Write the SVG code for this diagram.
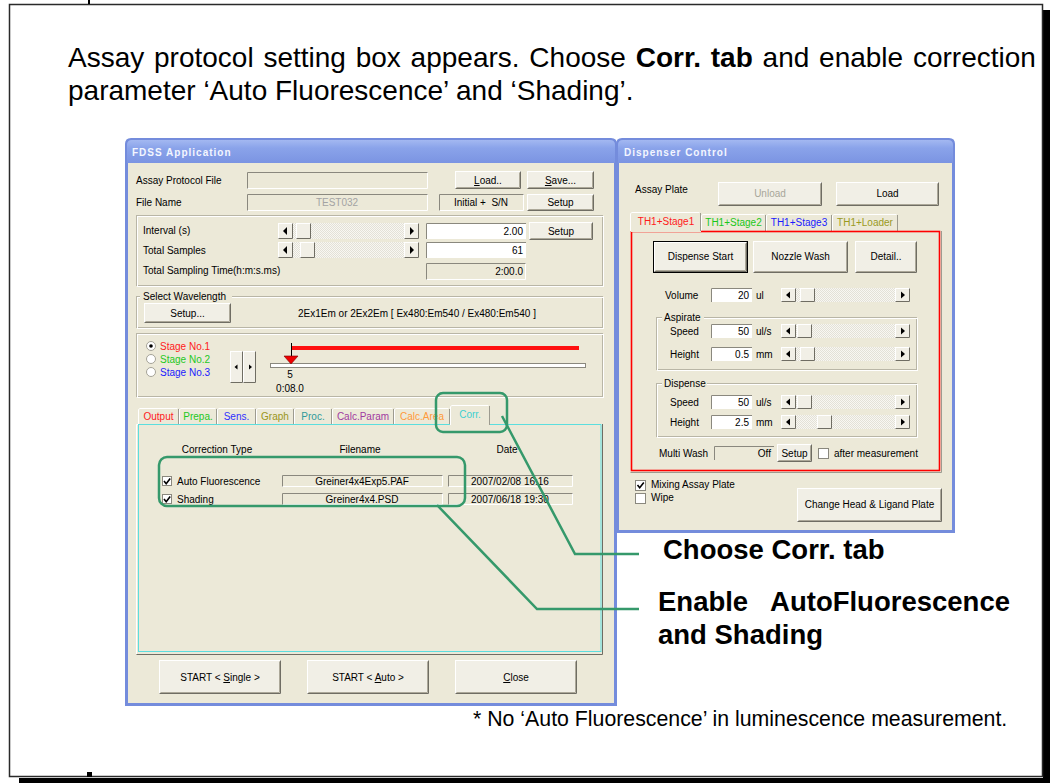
<svg xmlns="http://www.w3.org/2000/svg" width="1050" height="783" viewBox="0 0 1050 783">
<defs>
  <linearGradient id="tg" x1="0" y1="0" x2="0" y2="1">
    <stop offset="0" stop-color="#a3b8f1"/>
    <stop offset="0.35" stop-color="#8aa3ea"/>
    <stop offset="1" stop-color="#7b94e2"/>
  </linearGradient>
  <pattern id="dither" width="2" height="2" patternUnits="userSpaceOnUse">
    <rect width="2" height="2" fill="#f8f7f2"/>
    <rect width="1" height="1" fill="#e3e1d7"/>
    <rect x="1" y="1" width="1" height="1" fill="#e3e1d7"/>
  </pattern>
</defs>
<style>
  .ui{font-family:"Liberation Sans",Arial,sans-serif;font-size:10px;fill:#000}
  .c{text-anchor:middle}
  .r{text-anchor:end}
  .u{text-decoration:underline}
  .wt{font-family:"Liberation Sans",Arial,sans-serif;font-size:10px;font-weight:bold;letter-spacing:1px;fill:#f3f6ff}
  .frame{fill:#748cdc}
  .body{fill:#ECE9D8}
  .bf{fill:#f1efe6;stroke:#fff}
  .bs{fill:none;stroke:#6f6d63}
  .bs2{fill:none;stroke:#aca899}
  .fw{fill:#fff}
  .fr{fill:#ECE9D8}
  .fs{fill:none;stroke:#8a887e}
  .fl{fill:none;stroke:#fff}
  .e1{fill:none;stroke:#b9b6a6}
  .e2{fill:none;stroke:#fff}
  .tri{fill:#000}
  .tabw{fill:none;stroke:#fff}
  .tabd{fill:none;stroke:#9d9b90}
  .cb{fill:#fff;stroke:#8a887e}
  .ck{fill:none;stroke:#000;stroke-width:1.6}
  .hl{fill:none;stroke:#35996b;stroke-width:2.5}
  .lead{fill:none;stroke:#35996b;stroke-width:2.5}
  .title{font-family:"Liberation Sans",Arial,sans-serif;font-size:28px;fill:#000}
  .call{font-family:"Liberation Sans",Arial,sans-serif;font-size:27.5px;font-weight:bold;fill:#000}
  .note{font-family:"Liberation Sans",Arial,sans-serif;font-size:21.3px;fill:#000}
</style>

<!-- page frame with drop shadow -->
<g id="page">
  <rect x="0" y="0" width="1050" height="783" fill="#fff"/>
  <rect x="1043" y="10" width="7" height="773" fill="#000"/>
  <rect x="19" y="778" width="1031" height="5" fill="#000"/>
  <rect x="9.5" y="4.5" width="1033" height="772" fill="#fff" stroke="#2a2a2a" stroke-width="1.5"/>
  <rect x="88" y="0" width="2" height="4" fill="#000"/>
  <rect x="87" y="772" width="5" height="5" fill="#000"/>
</g>

<!-- instruction text -->
<g id="instruction">
  <text class="title" x="68" y="67" style="word-spacing:2px">Assay protocol setting box appears. Choose <tspan font-weight="bold">Corr. tab</tspan> and enable correction</text>
  <text class="title" x="68" y="100">parameter ‘Auto Fluorescence’ and ‘Shading’.</text>
</g>

<!-- Dispenser Control window -->
<g id="dispenser-window">
  <path class="frame" d="M616 533V144Q616 138 622 138H949Q955 138 955 144V533Z"/>
  <path fill="url(#tg)" d="M618 163V145Q618 140 623 140H948Q953 140 953 145V163Z"/>
  <rect class="body" x="619" y="163" width="333" height="367"/>
  <text class="wt" x="624" y="156">Dispenser Control</text>

  <text class="ui" x="635" y="193">Assay Plate</text>
  <rect class="bf" x="718.5" y="182.5" width="103" height="23"/><path class="bs" d="M718.5 205.5H821.5V182.5"/><path class="bs2" d="M719.5 204.5H820.5V183.5"/>
  <text class="ui c" x="770" y="197" style="fill:#a8a699">Unload</text>
  <rect class="bf" x="836.5" y="182.5" width="102" height="23"/><path class="bs" d="M836.5 205.5H938.5V182.5"/><path class="bs2" d="M837.5 204.5H937.5V183.5"/>
  <text class="ui c" x="887.5" y="197">Load</text>

  <!-- tab strip -->
  <path class="tabw" d="M701.5 231V215.5L703 214.5H764.5"/><path class="tabd" d="M765.5 215V231"/>
  <path class="tabw" d="M766.5 231V215.5L768 214.5H830.5"/><path class="tabd" d="M831.5 215V231"/>
  <path class="tabw" d="M832.5 231V215.5L834 214.5H896.5"/><path class="tabd" d="M897.5 215V231"/>
  <text class="ui c" x="733.5" y="226" style="fill:#19c719">TH1+Stage2</text>
  <text class="ui c" x="799" y="226" style="fill:#1a1aff">TH1+Stage3</text>
  <text class="ui c" x="865" y="226" style="fill:#9a9a1e">TH1+Loader</text>
  <!-- tab page -->
  <path class="tabd" d="M941.5 231V472.5H630.5"/>
  <rect x="631.5" y="231.5" width="308" height="239" fill="none" stroke="#ff0000" stroke-width="1.6"/>
  <rect class="body" x="631" y="212" width="70" height="20"/>
  <path class="tabw" d="M630.5 231V213.5L632 212.5H699.5"/><path class="tabd" d="M700.5 213V231"/>
  <text class="ui c" x="666" y="225" style="fill:#ff1a1a">TH1+Stage1</text>

  <rect x="653.5" y="241.5" width="94" height="31" fill="none" stroke="#000"/>
  <rect class="bf" x="654.5" y="242.5" width="92" height="29"/><path class="bs" d="M654.5 271.5H746.5V242.5"/><path class="bs2" d="M655.5 270.5H745.5V243.5"/>
  <text class="ui c" x="700.5" y="260">Dispense Start</text>
  <rect class="bf" x="753.5" y="241.5" width="94" height="31"/><path class="bs" d="M753.5 272.5H847.5V241.5"/><path class="bs2" d="M754.5 271.5H846.5V242.5"/>
  <text class="ui c" x="800.5" y="260">Nozzle Wash</text>
  <rect class="bf" x="855.5" y="241.5" width="61" height="31"/><path class="bs" d="M855.5 272.5H916.5V241.5"/><path class="bs2" d="M856.5 271.5H915.5V242.5"/>
  <text class="ui c" x="886" y="260">Detail..</text>

  <!-- volume row -->
  <text class="ui" x="665" y="299">Volume</text>
  <rect class="fw" x="711" y="288" width="41" height="14"/><path class="fs" d="M711.5 302V288.5H752"/>
  <text class="ui r" x="749" y="299">20</text>
  <text class="ui" x="756" y="299">ul</text>
  <rect x="781" y="288" width="129" height="14" fill="url(#dither)"/>
  <rect class="bf" x="781.5" y="288.5" width="14" height="13"/><path class="bs" d="M781.5 301.5H795.5V288.5"/><path class="tri" d="M786 295L790 291.5L790 298.5Z"/>
  <rect class="bf" x="800.5" y="288.5" width="14" height="13"/><path class="bs" d="M800.5 301.5H814.5V288.5"/>
  <rect class="bf" x="895.5" y="288.5" width="14" height="13"/><path class="bs" d="M895.5 301.5H909.5V288.5"/><path class="tri" d="M905 295L901 291.5L901 298.5Z"/>

  <!-- aspirate group -->
  <rect class="e1" x="656.5" y="317.5" width="260" height="52"/><rect class="e2" x="657.5" y="318.5" width="260" height="52"/>
  <rect class="body" x="662" y="312" width="42" height="10"/>
  <text class="ui" x="664" y="321">Aspirate</text>
  <text class="ui" x="670" y="335">Speed</text>
  <rect class="fw" x="711" y="324" width="41" height="14"/><path class="fs" d="M711.5 338V324.5H752"/>
  <text class="ui r" x="749" y="335">50</text>
  <text class="ui" x="756" y="335">ul/s</text>
  <rect x="781" y="324" width="129" height="14" fill="url(#dither)"/>
  <rect class="bf" x="781.5" y="324.5" width="14" height="13"/><path class="bs" d="M781.5 337.5H795.5V324.5"/><path class="tri" d="M786 331L790 327.5L790 334.5Z"/>
  <rect class="bf" x="797.5" y="324.5" width="14" height="13"/><path class="bs" d="M797.5 337.5H811.5V324.5"/>
  <rect class="bf" x="895.5" y="324.5" width="14" height="13"/><path class="bs" d="M895.5 337.5H909.5V324.5"/><path class="tri" d="M905 331L901 327.5L901 334.5Z"/>
  <text class="ui" x="670" y="358">Height</text>
  <rect class="fw" x="711" y="347" width="41" height="14"/><path class="fs" d="M711.5 361V347.5H752"/>
  <text class="ui r" x="749" y="358">0.5</text>
  <text class="ui" x="756" y="358">mm</text>
  <rect x="781" y="347" width="129" height="14" fill="url(#dither)"/>
  <rect class="bf" x="781.5" y="347.5" width="14" height="13"/><path class="bs" d="M781.5 360.5H795.5V347.5"/><path class="tri" d="M786 354L790 350.5L790 357.5Z"/>
  <rect class="bf" x="800.5" y="347.5" width="14" height="13"/><path class="bs" d="M800.5 360.5H814.5V347.5"/>
  <rect class="bf" x="895.5" y="347.5" width="14" height="13"/><path class="bs" d="M895.5 360.5H909.5V347.5"/><path class="tri" d="M905 354L901 350.5L901 357.5Z"/>

  <!-- dispense group -->
  <rect class="e1" x="656.5" y="383.5" width="260" height="53"/><rect class="e2" x="657.5" y="384.5" width="260" height="53"/>
  <rect class="body" x="662" y="378" width="45" height="10"/>
  <text class="ui" x="664" y="387">Dispense</text>
  <text class="ui" x="670" y="406">Speed</text>
  <rect class="fw" x="711" y="395" width="41" height="14"/><path class="fs" d="M711.5 409V395.5H752"/>
  <text class="ui r" x="749" y="406">50</text>
  <text class="ui" x="756" y="406">ul/s</text>
  <rect x="781" y="395" width="129" height="14" fill="url(#dither)"/>
  <rect class="bf" x="781.5" y="395.5" width="14" height="13"/><path class="bs" d="M781.5 408.5H795.5V395.5"/><path class="tri" d="M786 402L790 398.5L790 405.5Z"/>
  <rect class="bf" x="797.5" y="395.5" width="14" height="13"/><path class="bs" d="M797.5 408.5H811.5V395.5"/>
  <rect class="bf" x="895.5" y="395.5" width="14" height="13"/><path class="bs" d="M895.5 408.5H909.5V395.5"/><path class="tri" d="M905 402L901 398.5L901 405.5Z"/>
  <text class="ui" x="670" y="426">Height</text>
  <rect class="fw" x="711" y="415" width="41" height="14"/><path class="fs" d="M711.5 429V415.5H752"/>
  <text class="ui r" x="749" y="426">2.5</text>
  <text class="ui" x="756" y="426">mm</text>
  <rect x="781" y="415" width="129" height="14" fill="url(#dither)"/>
  <rect class="bf" x="781.5" y="415.5" width="14" height="13"/><path class="bs" d="M781.5 428.5H795.5V415.5"/><path class="tri" d="M786 422L790 418.5L790 425.5Z"/>
  <rect class="bf" x="817.5" y="415.5" width="14" height="13"/><path class="bs" d="M817.5 428.5H831.5V415.5"/>
  <rect class="bf" x="895.5" y="415.5" width="14" height="13"/><path class="bs" d="M895.5 428.5H909.5V415.5"/><path class="tri" d="M905 422L901 418.5L901 425.5Z"/>

  <!-- multi wash row -->
  <text class="ui" x="659" y="457">Multi Wash</text>
  <rect class="fr" x="714" y="446" width="60" height="14"/><path class="fs" d="M714.5 460V446.5H774"/>
  <text class="ui r" x="771" y="457">Off</text>
  <rect class="bf" x="777.5" y="444.5" width="34" height="17"/><path class="bs" d="M777.5 461.5H811.5V444.5"/><path class="bs2" d="M778.5 460.5H810.5V445.5"/>
  <text class="ui c" x="794.5" y="457">Setup</text>
  <rect class="cb" x="818.5" y="448.5" width="10" height="10"/>
  <text class="ui" x="834" y="457">after measurement</text>

  <!-- options below the tab page -->
  <rect class="cb" x="635.5" y="480.5" width="10" height="10"/><path class="ck" d="M637.5 485L639.7 487.8L643.8 482.5"/>
  <text class="ui" x="651" y="488">Mixing Assay Plate</text>
  <rect class="cb" x="635.5" y="493.5" width="10" height="10"/>
  <text class="ui" x="651" y="501">Wipe</text>
  <rect class="bf" x="797.5" y="488.5" width="144" height="33"/><path class="bs" d="M797.5 521.5H941.5V488.5"/><path class="bs2" d="M798.5 520.5H940.5V489.5"/>
  <text class="ui c" x="869.5" y="508">Change Head &amp; Ligand Plate</text>
</g>

<!-- FDSS Application window -->
<g id="fdss-window">
  <path class="frame" d="M125 706V144Q125 138 131 138H611Q617 138 617 144V706Z"/>
  <path fill="url(#tg)" d="M127 163V145Q127 140 132 140H610Q615 140 615 145V163Z"/>
  <rect class="body" x="128" y="163" width="486" height="540"/>
  <text class="wt" x="132" y="156">FDSS Application</text>

  <!-- file rows -->
  <text class="ui" x="136" y="184">Assay Protocol File</text>
  <rect class="fr" x="247" y="172" width="181" height="17"/><path class="fs" d="M247.5 189V172.5H428"/><path class="fl" d="M247.5 188.5H427.5V172.5"/>
  <rect class="bf" x="455.5" y="171.5" width="65" height="17"/><path class="bs" d="M455.5 188.5H520.5V171.5"/><path class="bs2" d="M456.5 187.5H519.5V172.5"/>
  <text class="ui c" x="488" y="184"><tspan class="u">L</tspan>oad..</text>
  <rect class="bf" x="527.5" y="171.5" width="66" height="17"/><path class="bs" d="M527.5 188.5H593.5V171.5"/><path class="bs2" d="M528.5 187.5H592.5V172.5"/>
  <text class="ui c" x="560.5" y="184"><tspan class="u">S</tspan>ave...</text>

  <text class="ui" x="136" y="206">File Name</text>
  <rect class="fr" x="247" y="194" width="181" height="17"/><path class="fs" d="M247.5 211V194.5H428"/><path class="fl" d="M247.5 210.5H427.5V194.5"/>
  <text class="ui c" x="337" y="206" style="fill:#a3a3a3">TEST032</text>
  <rect class="fr" x="439" y="194" width="85" height="17"/><path class="fs" d="M439.5 211V194.5H524"/><path class="fl" d="M439.5 210.5H523.5V194.5"/>
  <text class="ui c" x="481" y="206" style="white-space:pre">Initial +  S/N</text>
  <rect class="bf" x="527.5" y="194.5" width="66" height="16"/><path class="bs" d="M527.5 210.5H593.5V194.5"/><path class="bs2" d="M528.5 209.5H592.5V195.5"/>
  <text class="ui c" x="560.5" y="206">Setup</text>

  <!-- sampling group -->
  <rect class="e1" x="136.5" y="215.5" width="466" height="70"/><rect class="e2" x="137.5" y="216.5" width="466" height="70"/>
  <text class="ui" x="143" y="234">Interval (s)</text>
  <rect x="278" y="223" width="141" height="16" fill="url(#dither)"/>
  <rect class="bf" x="278.5" y="223.5" width="14" height="15"/><path class="bs" d="M278.5 238.5H292.5V223.5"/><path class="tri" d="M283 231L287 227L287 235Z"/>
  <rect class="bf" x="296.5" y="223.5" width="14" height="15"/><path class="bs" d="M296.5 238.5H310.5V223.5"/>
  <rect class="bf" x="404.5" y="223.5" width="14" height="15"/><path class="bs" d="M404.5 238.5H418.5V223.5"/><path class="tri" d="M414 231L410 227L410 235Z"/>
  <rect class="fw" x="426" y="223" width="100" height="16"/><path class="fs" d="M426.5 239V223.5H526"/>
  <text class="ui r" x="523" y="235">2.00</text>
  <rect class="bf" x="529.5" y="222.5" width="63" height="17"/><path class="bs" d="M529.5 239.5H592.5V222.5"/><path class="bs2" d="M530.5 238.5H591.5V223.5"/>
  <text class="ui c" x="561" y="235">Setup</text>

  <text class="ui" x="143" y="254">Total Samples</text>
  <rect x="278" y="242" width="141" height="16" fill="url(#dither)"/>
  <rect class="bf" x="278.5" y="242.5" width="14" height="15"/><path class="bs" d="M278.5 257.5H292.5V242.5"/><path class="tri" d="M283 250L287 246L287 254Z"/>
  <rect class="bf" x="300.5" y="242.5" width="14" height="15"/><path class="bs" d="M300.5 257.5H314.5V242.5"/>
  <rect class="bf" x="404.5" y="242.5" width="14" height="15"/><path class="bs" d="M404.5 257.5H418.5V242.5"/><path class="tri" d="M414 250L410 246L410 254Z"/>
  <rect class="fw" x="426" y="242" width="100" height="16"/><path class="fs" d="M426.5 258V242.5H526"/>
  <text class="ui r" x="523" y="254">61</text>

  <text class="ui" x="143" y="274">Total Sampling Time(h:m:s.ms)</text>
  <rect class="fr" x="426" y="263" width="100" height="17"/><path class="fs" d="M426.5 280V263.5H526"/><path class="fl" d="M426.5 279.5H525.5V263.5"/>
  <text class="ui r" x="523" y="275">2:00.0</text>

  <!-- wavelength group -->
  <rect class="e1" x="136.5" y="296.5" width="466" height="31"/><rect class="e2" x="137.5" y="297.5" width="466" height="31"/>
  <rect class="body" x="140" y="291" width="92" height="10"/>
  <text class="ui" x="143" y="300">Select Wavelength</text>
  <rect class="bf" x="144.5" y="303.5" width="86" height="19"/><path class="bs" d="M144.5 322.5H230.5V303.5"/><path class="bs2" d="M145.5 321.5H229.5V304.5"/>
  <text class="ui c" x="187.5" y="317">Setup...</text>
  <text class="ui c" x="417" y="317">2Ex1Em or 2Ex2Em [ Ex480:Em540 / Ex480:Em540 ]</text>

  <!-- stage group -->
  <rect class="e1" x="136.5" y="333.5" width="466" height="63"/><rect class="e2" x="137.5" y="334.5" width="466" height="63"/>
  <circle cx="151" cy="346" r="4.5" fill="#fff" stroke="#a5a397"/><circle cx="151" cy="346" r="1.8" fill="#000"/>
  <circle cx="151" cy="359" r="4.5" fill="#fff" stroke="#a5a397"/>
  <circle cx="151" cy="372" r="4.5" fill="#fff" stroke="#a5a397"/>
  <text class="ui" x="160" y="350" style="fill:#ff2020">Stage No.1</text>
  <text class="ui" x="160" y="363" style="fill:#1ec81e">Stage No.2</text>
  <text class="ui" x="160" y="376" style="fill:#2020ff">Stage No.3</text>
  <rect class="bf" x="230.5" y="351.5" width="12" height="31"/><path class="bs" d="M230.5 382.5H242.5V351.5"/><path class="tri" d="M234.5 367L237.5 364.5L237.5 369.5Z"/>
  <rect class="bf" x="243.5" y="351.5" width="12" height="31"/><path class="bs" d="M243.5 382.5H255.5V351.5"/><path class="tri" d="M252 367L249 364.5L249 369.5Z"/>
  <rect x="291" y="346" width="288" height="4" fill="#ff1010"/>
  <path d="M291.5 343V360" stroke="#000" fill="none"/>
  <rect x="270.5" y="363.5" width="315" height="4" fill="#fff" stroke="#8a887e"/>
  <path d="M284 356H298L291 364Z" fill="#ee0000" stroke="#7a0000" stroke-width="0.6"/>
  <text class="ui c" x="290" y="378">5</text>
  <text class="ui c" x="290" y="392">0:08.0</text>

  <!-- tab strip -->
  <path class="tabw" d="M138.5 424V409.5L140 408.5H177.5"/><path class="tabd" d="M178.5 409V424"/>
  <path class="tabw" d="M179.5 424V409.5L181 408.5H215.5"/><path class="tabd" d="M216.5 409V424"/>
  <path class="tabw" d="M217.5 424V409.5L219 408.5H254.5"/><path class="tabd" d="M255.5 409V424"/>
  <path class="tabw" d="M256.5 424V409.5L258 408.5H292.5"/><path class="tabd" d="M293.5 409V424"/>
  <path class="tabw" d="M294.5 424V409.5L296 408.5H330.5"/><path class="tabd" d="M331.5 409V424"/>
  <path class="tabw" d="M332.5 424V409.5L334 408.5H392.5"/><path class="tabd" d="M393.5 409V424"/>
  <path class="tabw" d="M394.5 424V409.5L396 408.5H448.5"/><path class="tabd" d="M449.5 409V424"/>
  <text class="ui c" x="158.5" y="420" style="fill:#ff2020">Output</text>
  <text class="ui c" x="198" y="420" style="fill:#1ec81e">Prepa.</text>
  <text class="ui c" x="236.5" y="420" style="fill:#3030ff">Sens.</text>
  <text class="ui c" x="275" y="420" style="fill:#9a9620">Graph</text>
  <text class="ui c" x="313" y="420" style="fill:#2f9a9a">Proc.</text>
  <text class="ui c" x="363" y="420" style="fill:#a03aa0">Calc.Param</text>
  <text class="ui c" x="422" y="420" style="fill:#ff9a3a">Calc.Area</text>

  <!-- tab page -->
  <path class="tabw" d="M136.5 654V424.5H602"/><path class="bs" d="M136.5 654.5H602.5V424"/>
  <rect x="138.5" y="424.5" width="462.5" height="227" fill="none" stroke="#5cdede"/>
  <rect class="body" x="450" y="405" width="40" height="21"/>
  <path class="tabw" d="M450.5 425V406.5L452 405.5H488.5"/><path class="tabd" d="M489.5 406V425"/>
  <text class="ui c" x="470" y="418" style="fill:#40d0d0">Corr.</text>

  <text class="ui c" x="217" y="453">Correction Type</text>
  <text class="ui c" x="360" y="453">Filename</text>
  <text class="ui c" x="507" y="453">Date</text>

  <rect class="cb" x="162.5" y="476.5" width="9" height="9"/><path class="ck" d="M164 481L166.2 483.8L170.2 478.5"/>
  <text class="ui" x="177" y="485">Auto Fluorescence</text>
  <rect class="fr" x="282" y="475" width="161" height="12"/><path class="fs" d="M282.5 487V475.5H443"/><path class="fl" d="M282.5 486.5H442.5V475.5"/>
  <text class="ui c" x="362" y="485">Greiner4x4Exp5.PAF</text>
  <rect class="fr" x="448" y="475" width="125" height="12"/><path class="fs" d="M448.5 487V475.5H573"/><path class="fl" d="M448.5 486.5H572.5V475.5"/>
  <text class="ui c" x="510" y="485">2007/02/08 16:16</text>

  <rect class="cb" x="162.5" y="494.5" width="9" height="9"/><path class="ck" d="M164 499L166.2 501.8L170.2 496.5"/>
  <text class="ui" x="177" y="503">Shading</text>
  <rect class="fr" x="282" y="493" width="161" height="12"/><path class="fs" d="M282.5 505V493.5H443"/><path class="fl" d="M282.5 504.5H442.5V493.5"/>
  <text class="ui c" x="362" y="503">Greiner4x4.PSD</text>
  <rect class="fr" x="448" y="493" width="125" height="12"/><path class="fs" d="M448.5 505V493.5H573"/><path class="fl" d="M448.5 504.5H572.5V493.5"/>
  <text class="ui c" x="510" y="503">2007/06/18 19:30</text>

  <!-- command buttons -->
  <rect class="bf" x="159.5" y="660.5" width="121" height="33"/><path class="bs" d="M159.5 693.5H280.5V660.5"/><path class="bs2" d="M160.5 692.5H279.5V661.5"/>
  <text class="ui c" x="220" y="681">START &lt; <tspan class="u">S</tspan>ingle &gt;</text>
  <rect class="bf" x="307.5" y="660.5" width="121" height="33"/><path class="bs" d="M307.5 693.5H428.5V660.5"/><path class="bs2" d="M308.5 692.5H427.5V661.5"/>
  <text class="ui c" x="368" y="681">START &lt; <tspan class="u">A</tspan>uto &gt;</text>
  <rect class="bf" x="455.5" y="660.5" width="121" height="33"/><path class="bs" d="M455.5 693.5H576.5V660.5"/><path class="bs2" d="M456.5 692.5H575.5V661.5"/>
  <text class="ui c" x="516" y="681"><tspan class="u">C</tspan>lose</text>
</g>

<!-- highlight boxes -->
<g id="highlight-corr-tab">
  <rect class="hl" x="436" y="393" width="71" height="39" rx="7"/>
</g>
<g id="highlight-correction-rows">
  <rect class="hl" x="159" y="457" width="306" height="49" rx="8"/>
</g>

<!-- leader lines -->
<g id="connectors">
  <polyline class="lead" points="502,416 575,554 639,554"/>
  <polyline class="lead" points="437,505 537,609 639,609"/>
</g>

<!-- callout labels -->
<g id="label-choose">
  <text class="call" x="663" y="559">Choose Corr. tab</text>
</g>
<g id="label-enable">
  <text class="call" x="658" y="611" style="white-space:pre">Enable   AutoFluorescence</text>
  <text class="call" x="658" y="644">and Shading</text>
</g>

<g id="footnote">
  <text class="note" x="473" y="726">* No ‘Auto Fluorescence’ in luminescence measurement.</text>
</g>
</svg>
